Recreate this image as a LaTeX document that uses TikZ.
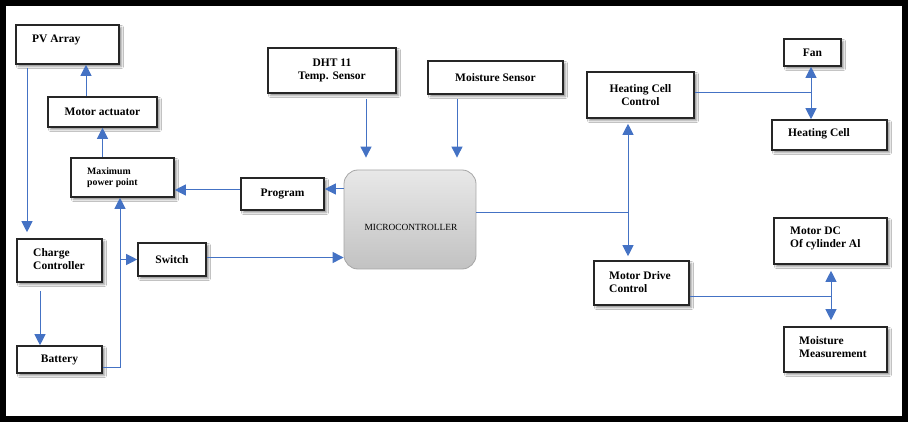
\documentclass[tikz,border=0pt]{standalone}
\usepackage{fontspec}
\setmainfont{Liberation Serif}
\usetikzlibrary{arrows.meta,shadows.blur}
\definecolor{lblue}{RGB}{68,114,196}
\begin{document}
\begin{tikzpicture}[x=1pt,y=-1pt,
  box/.style={draw=black!85, line width=1.6pt, fill=white, inner sep=0pt,
    blur shadow={shadow xshift=2.5pt, shadow yshift=-2.5pt, shadow blur radius=2pt, shadow opacity=45},
    font=\bfseries\fontsize{11.5}{13}\selectfont, align=center},
  txt/.style={inner sep=0pt, anchor=west, align=left, font=\bfseries\fontsize{11.5}{13}\selectfont},
  conn/.style={draw=lblue, line width=1pt},
  arr/.style={conn, -{Triangle[length=11pt,width=11pt]}},
]
\useasboundingbox (0,0) rectangle (908,422);
\fill[white] (0,0) rectangle (908,422);
\draw[line width=6pt] (3,3) rectangle (905,419);

% boxes
\node[box, minimum width=103pt, minimum height=39pt] (pv) at (67.5,44.5) {};
\node[box, minimum width=109pt, minimum height=30pt] (ma) at (102.5,112) {Motor actuator};
\node[box, minimum width=103pt, minimum height=39pt] (mpp) at (122.5,177.5) {};
\node[box, minimum width=85pt, minimum height=43pt] (cc) at (59.5,260.5) {};
\node[box, minimum width=85pt, minimum height=27pt] (bat) at (59.5,359.5) {Battery};
\node[box, minimum width=68pt, minimum height=33pt] (sw) at (172,259.5) {Switch};
\node[box, minimum width=83pt, minimum height=32pt] (prog) at (282.5,194) {Program};
\node[draw=gray!70, line width=0.8pt, rounded corners=14pt, top color=gray!18, bottom color=gray!48,
      minimum width=132pt, minimum height=99pt, inner sep=0pt] (micro) at (410,219.5) {};
\node[box, minimum width=128pt, minimum height=45pt] (dht) at (332,70.5) {DHT 11\\Temp. Sensor};
\node[box, minimum width=135pt, minimum height=33pt] (ms) at (495.5,77.5) {Moisture Sensor};
\node[box, minimum width=107pt, minimum height=46pt] (hcc) at (640.5,95) {Heating Cell\\Control};
\node[box, minimum width=57pt, minimum height=27pt] (fan) at (812.5,52.5) {Fan};
\node[box, minimum width=115pt, minimum height=30pt] (hc) at (829.5,135) {};
\node[box, minimum width=95pt, minimum height=44pt] (mdc) at (641.5,283) {};
\node[box, minimum width=113pt, minimum height=46pt] (mdc2) at (830.5,241) {};
\node[box, minimum width=103pt, minimum height=45pt] (mm) at (835.5,349.5) {};

% texts
\node[txt] (pvt) at (32,39.5) {PV Array};
\node[txt, font=\bfseries\fontsize{9.8}{11}\selectfont] (mppt) at (87,177.5) {Maximum\\power point};
\node[txt] (cct) at (33,259.5) {Charge\\Controller};
\node[txt] (hct) at (788,134) {Heating Cell};
\node[txt] (mdct) at (609,282.5) {Motor Drive\\Control};
\node[txt] (mdc2t) at (790,238) {Motor DC\\Of cylinder Al};
\node[txt] (mmt) at (799,347.5) {Moisture\\Measurement};
\node[inner sep=0pt, font=\fontsize{9.4}{11}\selectfont] (microt) at (411,227) {MICROCONTROLLER};

% helper coordinates
\coordinate (x86) at (86,0);
\coordinate (y190) at (0,190);
\coordinate (x27) at (27,0);
\coordinate (x40) at (40,0);
\coordinate (x120) at (120,0);
\coordinate (y367) at (0,367);
\coordinate (y189) at (0,189);
\coordinate (x366) at (366,0);
\coordinate (x457) at (457,0);
\coordinate (j2) at (628,213);
\coordinate (j3) at (811,93);
\coordinate (j4) at (831,296);

% connectors
\draw[arr] (ma.north -| x86) -- (pv.south -| x86);
\draw[arr] (mpp.north -| ma.south) -- (ma.south);
\draw[arr] (prog.west |- y190) -- (mpp.east |- y190);
\draw[arr, shorten <=3pt, shorten >=6pt] (pv.south -| x27) -- (cc.north -| x27);
\draw[arr, shorten <=8pt] (cc.south -| x40) -- (bat.north -| x40);
\draw[arr] (bat.east |- y367) -| (mpp.south -| x120);
\draw[arr] (sw.west -| x120) -- (sw.west);
\draw[arr] ([yshift=2pt]sw.east) -- ([yshift=2pt]sw.east -| micro.west);
\draw[arr] (micro.west |- y189) -- (prog.east |- y189);
\draw[arr, shorten <=5pt, shorten >=12pt] (dht.south -| x366) -- (micro.north -| x366);
\draw[arr, shorten <=4pt, shorten >=12pt] (ms.south -| x457) -- (micro.north -| x457);
\draw[conn] (micro.east |- j2) -- (j2);
\draw[arr, shorten >=5pt] (j2) -- (hcc.south -| j2);
\draw[arr, shorten >=4pt] (j2) -- (mdc.north -| j2);
\draw[conn] (hcc.east |- j3) -- (j3);
\draw[arr] (j3) -- (fan.south -| j3);
\draw[arr] (j3) -- (hc.north -| j3);
\draw[conn] (mdc.east |- j4) -- (j4);
\draw[arr, shorten >=6pt] (j4) -- (mdc2.south -| j4);
\draw[arr, shorten >=6pt] (j4) -- (mm.north -| j4);
\end{tikzpicture}
\end{document}
